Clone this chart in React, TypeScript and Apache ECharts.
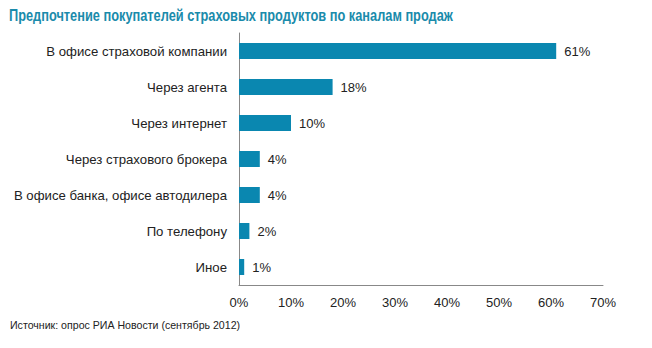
import React, { useEffect, useRef } from "react";
import * as echarts from "echarts";

const categories = [
  "В офисе страховой компании",
  "Через агента",
  "Через интернет",
  "Через страхового брокера",
  "В офисе банка, офисе автодилера",
  "По телефону",
  "Иное",
];
const values = [61, 18, 10, 4, 4, 2, 1];
const titleText = "Предпочтение покупателей страховых продуктов по каналам продаж";
const sourceText = "Источник: опрос РИА Новости (сентябрь 2012)";

const FONT = "'Liberation Sans', Arial, sans-serif";

export default function App() {
  const ref = useRef<HTMLDivElement>(null);
  useEffect(() => {
    if (!ref.current) return;
    const chart = echarts.init(ref.current, null, { renderer: "svg" });
    chart.setOption({
      animation: false,
      backgroundColor: "#ffffff",
      textStyle: { fontFamily: FONT },
      graphic: [
        {
          type: "text",
          x: 9,
          y: 7,
          scaleX: 0.8,
          style: {
            text: titleText,
            fontFamily: FONT,
            fontWeight: "bold",
            fontSize: 16,
            fill: "#1a8bab",
            textVerticalAlign: "top",
          },
        },
        {
          type: "text",
          x: 10,
          y: 319,
          style: {
            text: sourceText,
            fontFamily: FONT,
            fontSize: 10.6,
            fill: "#222222",
            textVerticalAlign: "top",
          },
        },
      ],
      grid: { left: 239, right: 49, top: 33, bottom: 63, containLabel: false },
      xAxis: {
        type: "value",
        min: 0,
        max: 70,
        interval: 10,
        axisLine: { show: true, lineStyle: { color: "#888888", width: 1 } },
        axisTick: { show: false },
        splitLine: { show: false },
        axisLabel: {
          formatter: "{value}%",
          color: "#222222",
          fontSize: 13,
          margin: 11,
          fontFamily: FONT,
        },
      },
      yAxis: {
        type: "category",
        data: categories,
        inverse: true,
        axisLine: { show: true, lineStyle: { color: "#888888", width: 1 } },
        axisTick: { show: false },
        axisLabel: { color: "#222222", fontSize: 13.2, margin: 12, fontFamily: FONT },
      },
      series: [
        {
          type: "bar",
          data: values,
          barWidth: 16,
          itemStyle: { color: "#0a87b0" },
          label: {
            show: true,
            position: "right",
            distance: 8,
            formatter: "{c}%",
            color: "#222222",
            fontSize: 13,
            fontFamily: FONT,
          },
        },
      ],
    });
    return () => chart.dispose();
  }, []);
  return (
    <div
      ref={ref}
      style={{ position: "fixed", left: 0, top: 0, width: 652, height: 348 }}
    />
  );
}
